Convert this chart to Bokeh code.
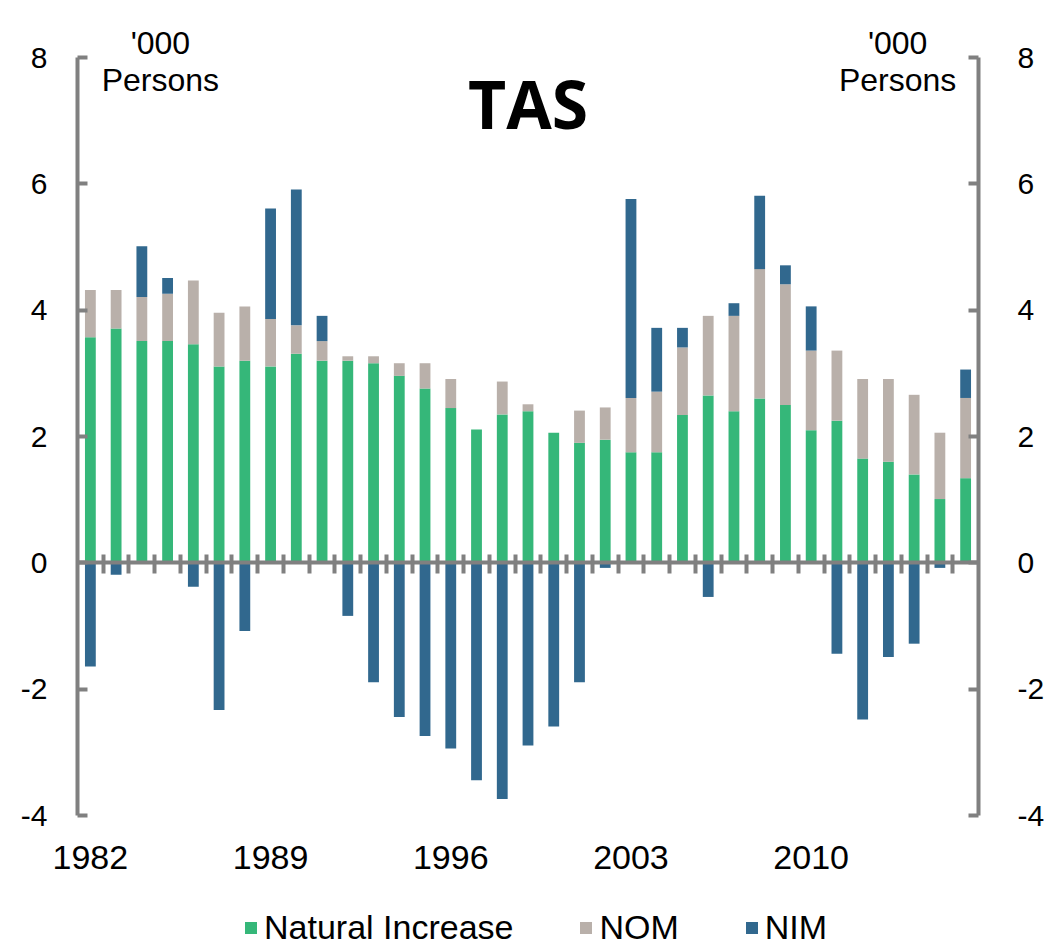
import numpy as np
from bokeh.plotting import figure
from bokeh.models import (ColumnDataSource, Range1d, LinearAxis, FixedTicker,
                          NumeralTickFormatter, CustomJSTickFormatter, Label,
                          Legend, LegendItem)
from bokeh.embed import file_html
from bokeh.resources import INLINE

# ---- data ('000 persons) ----
years = list(range(1982, 2017))
natural_increase = [3.57, 3.71, 3.51, 3.51, 3.46, 3.11, 3.20, 3.11, 3.31, 3.20, 3.20, 3.16,
                    2.96, 2.76, 2.45, 2.11, 2.35, 2.40, 2.06, 1.90, 1.95, 1.75,
                    1.75, 2.34, 2.65, 2.40, 2.60, 2.50, 2.10, 2.25, 1.65, 1.60, 1.40, 1.01, 1.34]
nom = [0.75, 0.61, 0.70, 0.75, 1.01, 0.85, 0.86, 0.75, 0.45, 0.31, 0.07, 0.11,
       0.20, 0.40, 0.46, 0.00, 0.52, 0.11, 0.00, 0.51, 0.51, 0.86,
       0.96, 1.07, 1.26, 1.51, 2.05, 1.91, 1.26, 1.11, 1.26, 1.31, 1.26, 1.05, 1.27]
nim = [-1.64, -0.19, 0.80, 0.25, -0.38, -2.33, -1.08, 1.75, 2.15, 0.40, -0.84, -1.89,
       -2.44, -2.74, -2.94, -3.44, -3.74, -2.89, -2.59, -1.89, -0.08, 3.15,
       1.01, 0.31, -0.54, 0.20, 1.16, 0.30, 0.70, -1.44, -2.48, -1.49, -1.28, -0.08, 0.45]
label_years = [1982, 1989, 1996, 2003, 2010]
y_ticks = [-4, -2, 0, 2, 4, 6, 8]
series_names = ["Natural Increase", "NOM", "NIM"]
series_colors = ["#35B779", "#B9B0AA", "#31688E"]

ni = np.array(natural_increase)
no = np.array(nom)
nm = np.array(nim)
src = ColumnDataSource(dict(
    x=years,
    ni_top=ni,
    nom_bot=ni,
    nom_top=ni + no,
    nim_bot=np.where(nm > 0, ni + no, 0.0),
    nim_top=np.where(nm > 0, ni + no + nm, nm),
))

AX = "#808080"
FONT = "Liberation Sans"
W, H = 1058, 950
X_LO, X_HI = years[0] - 0.5, years[-1] + 0.5
Y_LO, Y_HI = y_ticks[0], y_ticks[-1]
# pixel geometry of the axis box inside the canvas
BOX_L, BOX_R, BOX_T, BOX_B = 77, 978, 57, 815
px_x = (BOX_R - BOX_L) / (X_HI - X_LO)
px_y = (BOX_B - BOX_T) / (Y_HI - Y_LO)
# the plotting frame covers the whole canvas; axes are pinned at data positions
x_min = X_LO - BOX_L / px_x
x_max = X_HI + (W - BOX_R) / px_x
y_min = Y_LO - (H - BOX_B) / px_y
y_max = Y_HI + BOX_T / px_y

p = figure(width=W, height=H, output_backend="svg", toolbar_location=None,
           x_range=Range1d(x_min, x_max), y_range=Range1d(y_min, y_max),
           min_border=0)
p.outline_line_color = None
p.grid.visible = False
p.background_fill_color = "white"
p.border_fill_color = "white"

w = 0.42
r1 = p.vbar(x="x", bottom=0, top="ni_top", width=w, source=src,
            fill_color=series_colors[0], line_color=None)
r2 = p.vbar(x="x", bottom="nom_bot", top="nom_top", width=w, source=src,
            fill_color=series_colors[1], line_color=None)
r3 = p.vbar(x="x", bottom="nim_bot", top="nim_top", width=w, source=src,
            fill_color=series_colors[2], line_color=None)

# year labels, placed at the bottom of the axis span (y = -4)
xa = p.xaxis[0]
xa.fixed_location = Y_LO
xa.ticker = FixedTicker(ticks=label_years)
xa.axis_line_color = None
xa.major_tick_line_color = None
xa.minor_tick_line_color = None
xa.major_label_standoff = 24
xa.major_label_text_font = FONT
xa.major_label_text_font_size = "34px"
xa.major_label_text_color = "black"

# zero line axis with category boundary ticks
zero_ax = LinearAxis(fixed_location=0, bounds=(X_LO, X_HI),
                     ticker=FixedTicker(ticks=[y + 0.5 for y in years[:-1]]),
                     formatter=CustomJSTickFormatter(code="return ''"))
zero_ax.axis_line_color = AX
zero_ax.axis_line_width = 4
zero_ax.major_tick_line_color = AX
zero_ax.major_tick_line_width = 4
zero_ax.major_tick_out = 8
zero_ax.major_tick_in = 11
zero_ax.minor_tick_line_color = None
zero_ax.major_label_text_font_size = "1px"
p.add_layout(zero_ax, "above")

def style_y(ax):
    ax.bounds = (Y_LO, Y_HI)
    ax.ticker = FixedTicker(ticks=y_ticks)
    ax.formatter = NumeralTickFormatter(format="0")
    ax.axis_line_color = AX
    ax.axis_line_width = 4
    ax.major_tick_line_color = AX
    ax.major_tick_line_width = 4
    ax.major_tick_in = 10
    ax.major_tick_out = 0
    ax.minor_tick_line_color = None
    ax.major_label_text_font = FONT
    ax.major_label_text_font_size = "30px"
    ax.major_label_text_color = "black"

ya = p.yaxis[0]
style_y(ya)
ya.fixed_location = X_LO
ya.major_label_standoff = 30
ra = LinearAxis(fixed_location=X_HI)
style_y(ra)
ra.major_label_standoff = 39
p.add_layout(ra, "right")

# title and unit labels
p.add_layout(Label(x=(years[0] + years[-1]) / 2, y=7.272, text="TAS", text_align="center",
                   text_baseline="alphabetic", text_font="Open Sans", text_font_style="bold",
                   text_font_size="66px", text_color="black"))
for xc in (1984.72, 2013.36):
    p.add_layout(Label(x=xc, y=8.237, text="'000", text_align="center",
                       text_baseline="alphabetic", text_font=FONT, text_font_size="32px",
                       text_color="black"))
    p.add_layout(Label(x=xc, y=7.636, text="Persons", text_align="center",
                       text_baseline="alphabetic", text_font=FONT, text_font_size="32px",
                       text_color="black"))

legend = Legend(items=[LegendItem(label=series_names[0], renderers=[r1]),
                       LegendItem(label=series_names[1], renderers=[r2]),
                       LegendItem(label=series_names[2], renderers=[r3])],
                orientation="horizontal", location=(243, 3),
                glyph_width=15, glyph_height=15, label_standoff=6, spacing=65,
                padding=0, margin=0, border_line_color=None, background_fill_alpha=0,
                label_text_font=FONT, label_text_font_size="34px", label_text_color="black")
p.add_layout(legend, "center")

open("out.html", "w").write(file_html(p, INLINE))
